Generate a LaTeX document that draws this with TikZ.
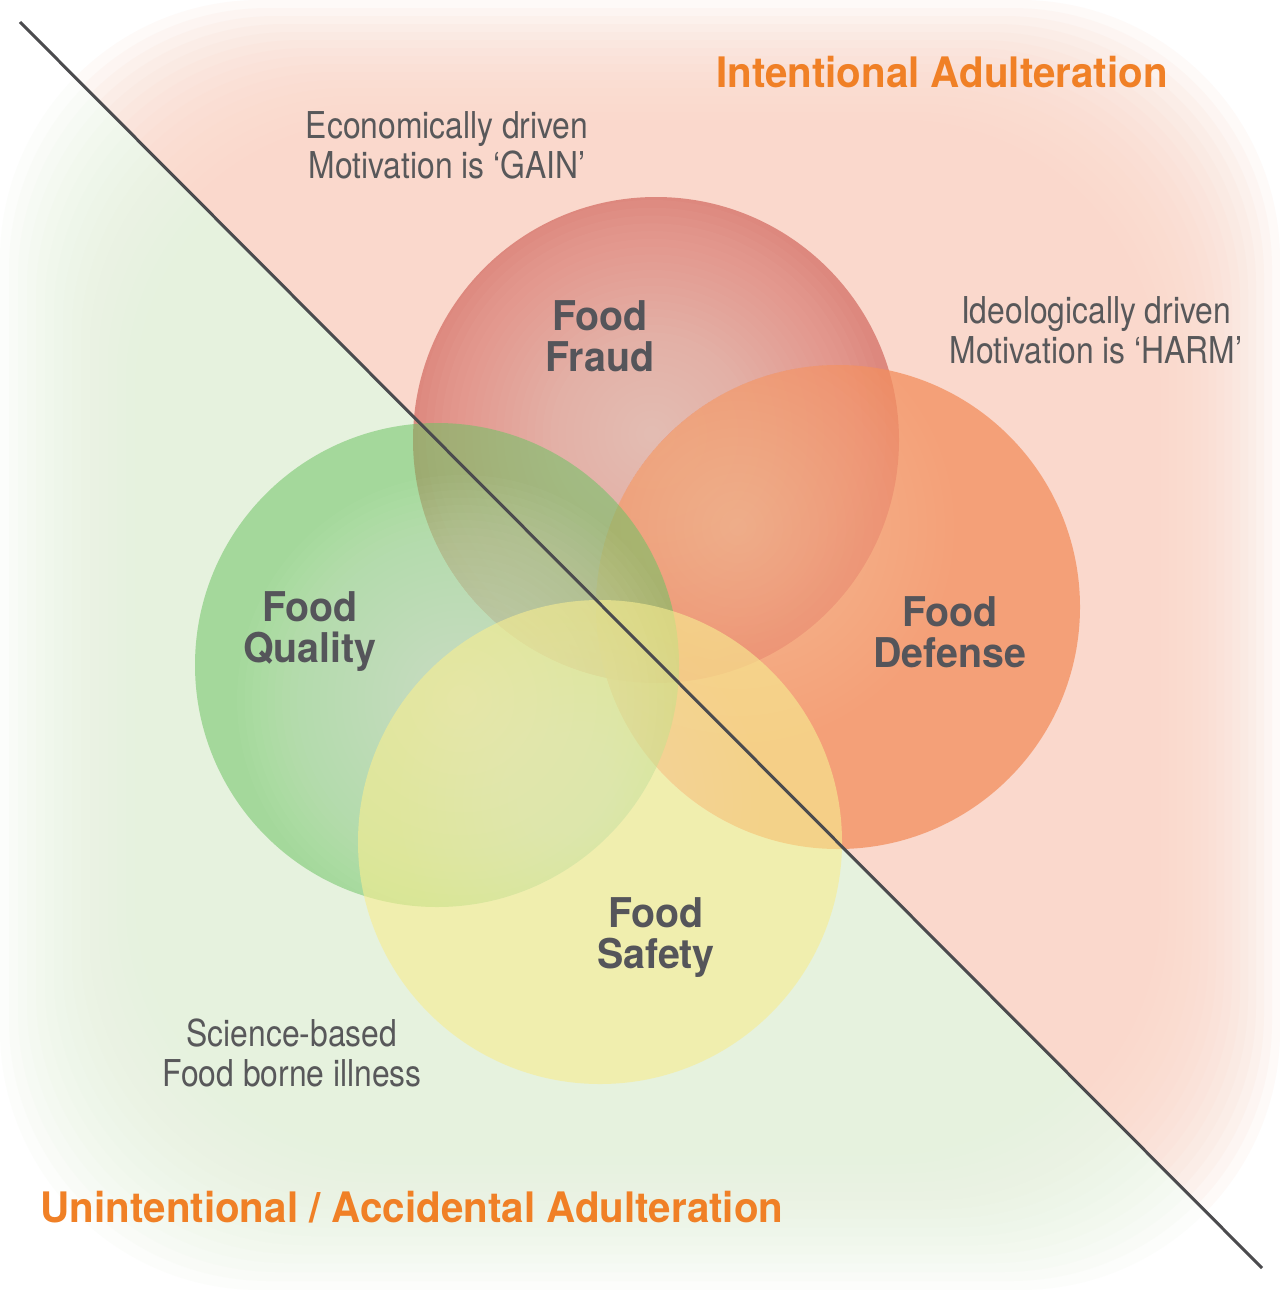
\documentclass[tikz,border=0pt]{standalone}
\usepackage{fontspec}
\setmainfont{TeX Gyre Heros}
\newfontfamily\notefont[FakeStretch=0.86]{TeX Gyre Heros}
\newfontfamily\headfont[FakeStretch=0.96]{TeX Gyre Heros}
\usepackage{tikz}
\usetikzlibrary{calc}
\definecolor{headorange}{RGB}{240, 128, 38}
\definecolor{labelgray}{RGB}{85, 85, 90}
\definecolor{notegray}{RGB}{88, 88, 90}
\definecolor{cutline}{RGB}{75, 75, 78}
\definecolor{warmin}{RGB}{250, 214, 200}
\definecolor{greenin}{RGB}{230, 242, 220}
\definecolor{fraudout}{RGB}{212, 110, 100}
\definecolor{fraudlight}{RGB}{255, 232, 222}
\definecolor{defenseout}{RGB}{243, 142, 93}
\definecolor{defenselight}{RGB}{255, 222, 200}
\definecolor{qualityout}{RGB}{110, 195, 100}
\definecolor{qualitylight}{RGB}{240, 250, 236}
\definecolor{safetyout}{RGB}{247, 237, 145}

\begin{document}
\begin{tikzpicture}[x=0.5pt, y=-0.5pt,
  region/.style={font=\headfont\bfseries\fontsize{21}{22}\selectfont, text=headorange},
  topic/.style={font=\headfont\bfseries\fontsize{20.5}{20.5}\selectfont, text=labelgray, align=center},
  aside/.style={font=\notefont\fontsize{18.5}{20}\selectfont, text=notegray, align=center}]
  \useasboundingbox (0, 0) rectangle (1280, 1290);
  \fill[white] (0, 0) rectangle (1280, 1290);

  % the two halves, fading out to the edges
  \begin{scope}
    \clip (0, 2) -- (1280, 1286) -- (1280, 0) -- (0, 0) -- cycle;
    \foreach \m in {0, 8, ..., 120} {
      \fill[warmin, opacity=0.12, rounded corners=130pt] (\m, \m) rectangle ({1280-\m}, {1290-\m});
    }
  \end{scope}
  \begin{scope}
    \clip (0, 2) -- (1280, 1286) -- (1280, 1290) -- (0, 1290) -- cycle;
    \foreach \m in {0, 9, ..., 135} {
      \fill[greenin, opacity=0.11, rounded corners=130pt] (\m, \m) rectangle ({1280-\m}, {1290-\m});
    }
  \end{scope}

  % the four circles, each with a soft light centre
  \coordinate (fraud) at (656, 440);
  \coordinate (defense) at (838, 607);
  \coordinate (quality) at (437, 665);
  \coordinate (safety) at (600, 842);

  \fill[fraudout, opacity=0.75] (fraud) circle (243);
  \foreach \i in {1, ..., 30} {
    \fill[fraudlight, opacity=0.035] ($(fraud)+(-4, -6)$) circle ({7.8*\i});
  }

  \fill[defenseout, opacity=0.75] (defense) circle (242);
  \begin{scope}
    \clip (defense) circle (242);
    \foreach \i in {1, ..., 24} {
      \fill[defenselight, opacity=0.025] ($(defense)+(-100, -80)$) circle ({9*\i});
    }
  \end{scope}

  \fill[qualityout, opacity=0.55] (quality) circle (242);
  \begin{scope}
    \clip (quality) circle (242);
    \foreach \i in {1, ..., 30} {
      \fill[qualitylight, opacity=0.03] ($(quality)+(25, 35)$) circle ({7.5*\i});
    }
  \end{scope}

  \fill[safetyout, opacity=0.62] (safety) circle (242);
  \foreach \i in {1, ..., 20} {
    \fill[white, opacity=0.012] ($(safety)+(-20, -40)$) circle ({9*\i});
  }

  \coordinate (cutA) at (20, 22);
  \coordinate (cutB) at (1262, 1268);
  \draw[cutline, line width=1.5pt] (cutA) -- (cutB);

  \node[topic] (fraudtxt) at (600, 336) {Food\\Fraud};
  \node[topic] (qualitytxt) at (310, 632) {Food\\Quality};
  \node[topic] (defensetxt) at (950, 632) {Food\\Defense};
  \node[topic] (safetytxt) at (656, 938) {Food\\Safety};

  \node[aside] (gain) at (447, 145) {Economically driven\\Motivation is ‘GAIN’};
  \node[aside] (harm) at (1096, 330) {Ideologically driven\\Motivation is ‘HARM’};
  \node[aside] (illness) at (292, 1053) {Science-based\\Food borne illness};

  \node[region] (intent) at (942, 72) {Intentional Adulteration};
  \node[region] (accident) at (412, 1207) {Unintentional / Accidental Adulteration};
\end{tikzpicture}
\end{document}
